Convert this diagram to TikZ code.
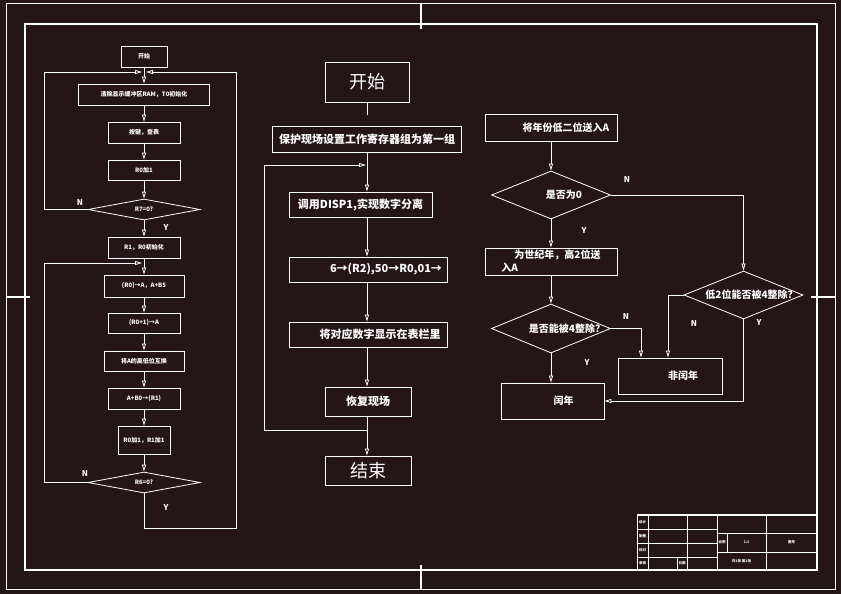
\documentclass[tikz,border=0pt]{standalone}
\usepackage{fontspec}
\setmainfont{Noto Sans CJK SC}
\usetikzlibrary{arrows.meta,shapes.geometric}
\definecolor{bgbrown}{RGB}{38,21,22}

\begin{document}
\begin{tikzpicture}[x=1pt,y=-1pt,color=white,line width=0.8pt,
  box/.style={draw,rectangle,inner sep=1pt},
  dec/.style={draw,diamond,inner sep=0pt,shape aspect=2.5},
  arr/.style={-{Triangle[open,length=7pt,width=4pt]}},
  tiny/.style={font=\bfseries\fontsize{6}{7}\selectfont},
  mini/.style={font=\bfseries\fontsize{3.5}{4}\selectfont},
  mid/.style={font=\bfseries\fontsize{11}{13}\selectfont},
  rt/.style={font=\bfseries\fontsize{10}{13}\selectfont},
  big/.style={font=\fontsize{18}{20}\selectfont},
  yn/.style={font=\bfseries\fontsize{8}{8}\selectfont}]
\fill[bgbrown] (0,0) rectangle (841,594);
\useasboundingbox (0,0) rectangle (841,594);

% frame
\draw[line width=1pt] (6,4) rectangle (835,589);
\draw[line width=2.5pt] (25,24) rectangle (817,570);
\draw[line width=2.5pt] (421,4) -- (421,29) (421,565) -- (421,589)
  (6,297) -- (30,297) (811,297) -- (835,297);

% left chart
\node[box,tiny,minimum width=46pt,minimum height=21pt] (ks) at (144,56.5) {开始};
\node[box,tiny,minimum width=131pt,minimum height=21pt] (l2) at (144,94.5) {清除显示缓冲区RAM，T0初始化};
\node[box,tiny,minimum width=72pt,minimum height=21pt] (l3) at (144,132.5) {按键，查表};
\node[box,tiny,minimum width=72pt,minimum height=20pt] (l4) at (144,170) {R0加1};
\node[dec,tiny,minimum width=112pt,minimum height=21pt,shape aspect=5.3] (ld1) at (144,209.5) {R7=0?};
\node[box,tiny,minimum width=72pt,minimum height=21pt] (l5) at (144,247.5) {R1，R0初始化};
\node[box,tiny,minimum width=80pt,minimum height=22pt] (l6) at (144,286) {(R0)→A，A+B5};
\node[box,tiny,minimum width=72pt,minimum height=20pt] (l7) at (144,323) {(R0+1)→A};
\node[box,tiny,minimum width=80pt,minimum height=20pt] (l8) at (144,361) {将A的高低位互换};
\node[box,tiny,minimum width=72pt,minimum height=21pt] (l9) at (144,398.5) {A+B0→(R1)};
\node[box,tiny,minimum width=52pt,minimum height=28pt] (l10) at (144,440) {R0加1，R1加1};
\node[dec,tiny,minimum width=112pt,minimum height=21pt,shape aspect=5.3] (ld2) at (144,482.5) {R6=0?};
\coordinate (j1) at (144,72);
\coordinate (lt) at (44,72);
\coordinate (j2) at (144,263);
\coordinate (lb) at (44,263);
\coordinate (rb) at (236,528);
\draw (ks) -- (j1);
\draw[arr] (j1) -- (l2);
\draw[arr] (l2) -- (l3);
\draw[arr] (l3) -- (l4);
\draw[arr] (l4) -- (ld1);
\draw[arr,shorten >=2pt] (ld1.west) -| (lt) -- (j1);
\draw[arr] (ld1) -- (l5);
\draw (l5) -- (j2);
\draw[arr] (j2) -- (l6);
\draw[arr] (l6) -- (l7);
\draw[arr] (l7) -- (l8);
\draw[arr] (l8) -- (l9);
\draw[arr] (l9) -- (l10);
\draw[arr] (l10) -- (ld2);
\draw[arr,shorten >=2pt] (ld2.west) -| (lb) -- (j2);
\draw[arr,shorten >=2pt] (ld2.south) |- (rb) |- (j1);
\node[yn] (ln1) at (80,203) {N};
\node[yn] (ly1) at (166,228) {Y};
\node[yn] (ln2) at (85,474) {N};
\node[yn] (ly2) at (166,508) {Y};

% middle chart
\node[box,big,minimum width=84pt,minimum height=40pt] (ms) at (367,82) {开始};
\node[box,mid,minimum width=189pt,minimum height=26pt] (m2) at (367,139) {保护现场设置工作寄存器组为第一组};
\node[box,mid,minimum width=143pt,minimum height=25pt] (m3) at (360.5,204.5) {调用DISP1,实现数字分离};
\node[box,mid,minimum width=158pt,minimum height=25pt] (m4) at (368,269.5) {\hspace*{36pt}6→(R2),50→R0,01→};
\node[box,mid,minimum width=158pt,minimum height=25pt] (m5) at (368,334.5) {\hspace*{24pt}将对应数字显示在表栏里};
\node[box,mid,minimum width=86pt,minimum height=29pt] (m6) at (368,401.5) {恢复现场};
\node[box,big,minimum width=86pt,minimum height=29pt] (me) at (368,470.5) {结束};
\coordinate (mj) at (367,165);
\coordinate (ml) at (264,165);
\coordinate (mb) at (367,430);
\draw[shorten >=11pt] (ms) -- (m2);
\draw[arr] (m2.south) -- (m3.north -| mj);
\draw[arr] (m3.south -| mj) -- (m4.north -| mj);
\draw[arr] (m4.south -| mj) -- (m5.north -| mj);
\draw[arr] (m5.south -| mj) -- (m6.north -| mj);
\draw[arr] (m6.south -| mj) -- (me.north -| mj);
\draw[arr,shorten >=1pt] (mb) -| (ml) -- (mj);

% right chart
\node[box,rt,minimum width=132pt,minimum height=27pt] (r1) at (551,127.5) {\hspace*{30pt}将年份低二位送入A};
\node[dec,minimum width=119pt,minimum height=48pt,label={[rt,xshift=13pt]center:是否为0}] (rd1) at (551,195) {};
\node[box,rt,minimum width=132pt,minimum height=27pt,align=left] (r2) at (551,261.5) {\hspace*{13pt}为世纪年，高2位送\\入A};
\node[dec,minimum width=119pt,minimum height=49pt,label={[rt,xshift=16pt]center:是否能被4整除？}] (rd2) at (551,328.5) {};
\node[dec,minimum width=119pt,minimum height=48pt,label={[rt,xshift=8pt]center:低2位能否被4整除？}] (rd3) at (743.5,295) {};
\node[box,rt,minimum width=104pt,minimum height=36pt] (fn) at (670,376) {\hspace*{26pt}非闰年};
\node[box,rt,minimum width=103pt,minimum height=36pt] (ly) at (552.5,401) {\hspace*{22pt}闰年};
\draw[arr] (r1) -- (rd1);
\draw[arr] (rd1.east) -| (rd3.north);
\draw[arr] (rd1) -- (r2);
\draw[arr] (r2) -- (rd2);
\draw[arr] (rd2.east) -| ([xshift=-29pt]fn.north);
\draw[arr] (rd3.west) -| ([xshift=-2pt]fn.north);
\draw[arr] (rd2.south) -- (rd2.south |- ly.north);
\draw[arr] (rd3.south) |- (ly.east);
\node[yn] (rn1) at (627,180) {N};
\node[yn] (ry1) at (584,231) {Y};
\node[yn] (rn2) at (626,317) {N};
\node[yn] (ry2) at (587,363) {Y};
\node[yn] (rn3) at (694,324) {N};
\node[yn] (ry3) at (759,323) {Y};

% title block
\draw[line width=1.5pt] (637,515) -- (817,515);
\draw (637,515) rectangle (817,570);
\draw (648,515) -- (648,570) (687,515) -- (687,570)
  (717,515) -- (717,570) (766,515) -- (766,570);
\draw (637,529) -- (717,529) (637,543) -- (717,543) (637,557) -- (717,557)
  (677,557) -- (677,570);
\draw (717,533) -- (817,533) (717,552) -- (817,552) (727,533) -- (727,552);
\node[mini] (t1) at (642.5,522) {设计};
\node[mini] (t2) at (642.5,536) {制图};
\node[mini] (t3) at (642.5,550) {校对};
\node[mini] (t4) at (642.5,563.5) {审核};
\node[mini] (t5) at (682,563.5) {日期};
\node[mini] (t6) at (722,542.5) {比例};
\node[mini] (t7) at (746.5,542.5) {1:1};
\node[mini] (t8) at (791.5,542.5) {图号};
\node[mini] (t9) at (741.5,561) {共1张 第1张};
\end{tikzpicture}
\end{document}
